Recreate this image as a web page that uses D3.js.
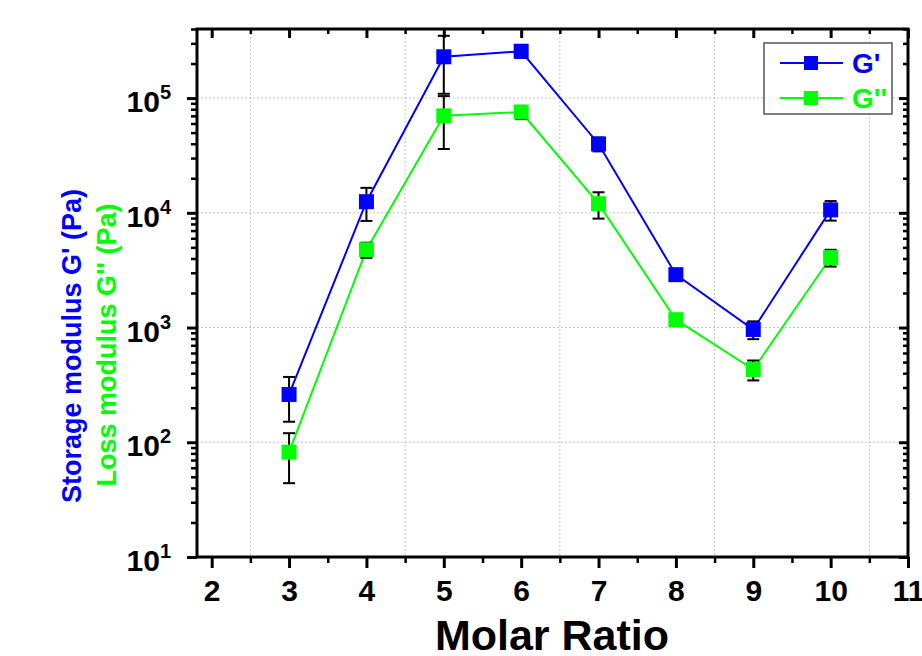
<!DOCTYPE html>
<html lang="en">
<head>
    <meta charset="UTF-8">
    <title>G' and G'' vs Molar Ratio</title>
    <script src="https://d3js.org/d3.v7.min.js"></script>
    <style>
        body {
            margin: 0;
            background-color: #ffffff;
            font-family: 'Liberation Sans', Arial, sans-serif;
        }
        .axis text {
            font-family: 'Liberation Sans', Arial, sans-serif;
            font-weight: bold;
            fill: #000;
        }
        .axis line {
            stroke: #000;
        }
        .grid line {
            stroke: #c4c4c4;
            stroke-width: 1px;
            stroke-dasharray: 2,2;
        }
    </style>
</head>
<body>
    <div id="chart"></div>

    <script>
        // Data
        const ratios = [3, 4, 5, 6, 7, 8, 9, 10];
        const gPrime = [261, 12500, 229000, 256000, 39800, 2890, 962, 10600];
        const gPrimeErr = [110, 4000, 120000, 32000, 5500, 250, 170, 2050];
        const gDouble = [82, 4770, 70000, 75500, 12000, 1170, 431, 4080];
        const gDoubleErr = [38, 720, 34000, 10000, 3100, 100, 85, 680];

        const xTicks = [2, 3, 4, 5, 6, 7, 8, 9, 10, 11];
        const yTicks = [10, 100, 1000, 10000, 100000];
        const xGrid = [2.5, 4.5, 6.5, 8.5, 10.5];

        const series = [
            { name: "G'", color: "#0000ff", values: gPrime, errs: gPrimeErr },
            { name: "G''", color: "#00ff00", values: gDouble, errs: gDoubleErr }
        ];

        const width = 922;
        const height = 656;
        const margin = { top: 29, right: 14, bottom: 99, left: 197 };
        const innerW = width - margin.left - margin.right;
        const innerH = height - margin.top - margin.bottom;

        const svg = d3.select("#chart")
            .append("svg")
            .attr("width", width)
            .attr("height", height);

        const g = svg.append("g")
            .attr("transform", `translate(${margin.left},${margin.top})`);

        const x = d3.scaleLinear().domain([1.81, 11]).range([0, innerW]);
        const y = d3.scaleLog().domain([10, 4e5]).range([innerH, 0]);

        // minor ticks
        const xMinor = d3.range(1.5, 11, 1).filter(v => v >= 1.81);
        const yMinor = [];
        for (let p = 1; p <= 5; p++) {
            for (let m = 2; m <= 9; m++) {
                const v = m * Math.pow(10, p);
                if (v <= 4e5) yMinor.push(v);
            }
        }

        // grid
        g.append("g").attr("class", "grid")
            .selectAll("line.h")
            .data(yTicks.slice(1))
            .enter().append("line")
            .attr("x1", 0).attr("x2", innerW)
            .attr("y1", d => y(d)).attr("y2", d => y(d));

        g.append("g").attr("class", "grid")
            .selectAll("line.v")
            .data(xGrid)
            .enter().append("line")
            .attr("y1", 0).attr("y2", innerH)
            .attr("x1", d => x(d)).attr("x2", d => x(d));

        // bottom axis
        const xAxis = g.append("g").attr("class", "axis")
            .attr("transform", `translate(0,${innerH})`)
            .call(d3.axisBottom(x).tickValues(xTicks).tickSize(11).tickSizeOuter(0).tickPadding(12).tickFormat(d3.format("d")));
        xAxis.selectAll("text").style("font-size", "30px");
        xAxis.selectAll("line").style("stroke-width", "3px");
        xAxis.select(".domain").remove();

        g.append("g").attr("class", "axis")
            .attr("transform", `translate(0,${innerH})`)
            .call(d3.axisBottom(x).tickValues(xMinor).tickSize(6).tickFormat(""))
            .call(a => a.select(".domain").remove())
            .selectAll("line").style("stroke-width", "2.5px");

        // top axis (ticks inward)
        g.append("g").attr("class", "axis")
            .call(d3.axisTop(x).tickValues(xTicks).tickSize(-9).tickFormat(""))
            .call(a => a.select(".domain").remove())
            .selectAll("line").style("stroke-width", "3px");
        g.append("g").attr("class", "axis")
            .call(d3.axisTop(x).tickValues(xMinor).tickSize(-5).tickFormat(""))
            .call(a => a.select(".domain").remove())
            .selectAll("line").style("stroke-width", "2.5px");

        // left axis
        const yAxis = g.append("g").attr("class", "axis")
            .call(d3.axisLeft(y).tickValues(yTicks).tickSize(10).tickPadding(16).tickFormat(""));
        yAxis.select(".domain").remove();
        yAxis.selectAll("line").style("stroke-width", "3px");
        yAxis.selectAll(".tick text")
            .style("font-size", "30px")
            .attr("dy", "0.45em")
            .each(function(d) {
                const t = d3.select(this);
                t.append("tspan").text("10");
                t.append("tspan")
                    .text(Math.round(Math.log10(d)))
                    .style("font-size", "20px")
                    .attr("dy", "-13");
            });

        g.append("g").attr("class", "axis")
            .call(d3.axisLeft(y).tickValues(yMinor).tickSize(6).tickFormat(""))
            .call(a => a.select(".domain").remove())
            .selectAll("line").style("stroke-width", "2.5px");

        // right axis (ticks inward)
        g.append("g").attr("class", "axis")
            .attr("transform", `translate(${innerW},0)`)
            .call(d3.axisRight(y).tickValues(yTicks).tickSize(-9).tickFormat(""))
            .call(a => a.select(".domain").remove())
            .selectAll("line").style("stroke-width", "3px");
        g.append("g").attr("class", "axis")
            .attr("transform", `translate(${innerW},0)`)
            .call(d3.axisRight(y).tickValues(yMinor).tickSize(-5).tickFormat(""))
            .call(a => a.select(".domain").remove())
            .selectAll("line").style("stroke-width", "2.5px");

        // frame
        g.append("rect")
            .attr("width", innerW)
            .attr("height", innerH)
            .attr("fill", "none")
            .attr("stroke", "#000")
            .attr("stroke-width", 3);

        // lines
        const line = d3.line()
            .x((d, i) => x(ratios[i]))
            .y(d => y(d));

        series.forEach(s => {
            g.append("path")
                .datum(s.values)
                .attr("fill", "none")
                .attr("stroke", s.color)
                .attr("stroke-width", 2)
                .attr("d", line);
        });

        // error bars
        series.forEach(s => {
            const eb = g.append("g");
            s.values.forEach((v, i) => {
                const cx = x(ratios[i]);
                const y1 = y(v + s.errs[i]);
                const y0 = y(Math.max(v - s.errs[i], 1));
                eb.append("line")
                    .attr("x1", cx).attr("x2", cx)
                    .attr("y1", y1).attr("y2", y0)
                    .attr("stroke", "#000").attr("stroke-width", 2);
                [y1, y0].forEach(yy => {
                    eb.append("line")
                        .attr("x1", cx - 6).attr("x2", cx + 6)
                        .attr("y1", yy).attr("y2", yy)
                        .attr("stroke", "#000").attr("stroke-width", 2);
                });
            });
        });

        // markers
        series.forEach(s => {
            g.append("g").selectAll("rect")
                .data(s.values)
                .enter().append("rect")
                .attr("x", (d, i) => x(ratios[i]) - 7.5)
                .attr("y", d => y(d) - 7.5)
                .attr("width", 15)
                .attr("height", 15)
                .attr("fill", s.color);
        });

        // axis titles
        svg.append("text")
            .attr("x", 552)
            .attr("y", 650)
            .attr("text-anchor", "middle")
            .style("font-size", "43px")
            .style("font-weight", "bold")
            .text("Molar Ratio");

        svg.append("text")
            .attr("transform", "translate(81,346) rotate(-90)")
            .attr("text-anchor", "middle")
            .style("font-size", "27px")
            .style("font-weight", "bold")
            .attr("fill", "#0000ff")
            .text("Storage modulus G' (Pa)");

        svg.append("text")
            .attr("transform", "translate(116,345) rotate(-90)")
            .attr("text-anchor", "middle")
            .style("font-size", "27px")
            .style("font-weight", "bold")
            .attr("fill", "#00ff00")
            .text("Loss modulus G'' (Pa)");

        // legend
        const legend = svg.append("g").attr("transform", "translate(764,43)");
        legend.append("rect")
            .attr("width", 128)
            .attr("height", 71)
            .attr("fill", "#fff")
            .attr("stroke", "#555")
            .attr("stroke-width", 1.5);

        series.forEach((s, i) => {
            const ly = 20 + i * 35;
            legend.append("line")
                .attr("x1", 16).attr("x2", 79)
                .attr("y1", ly).attr("y2", ly)
                .attr("stroke", s.color).attr("stroke-width", 2);
            legend.append("rect")
                .attr("x", 47 - 7).attr("y", ly - 7)
                .attr("width", 14).attr("height", 14)
                .attr("fill", s.color);
            legend.append("text")
                .attr("x", 88)
                .attr("y", ly + 10)
                .style("font-size", "28px")
                .style("font-weight", "bold")
                .attr("fill", s.color)
                .text(s.name);
        });
    </script>
</body>
</html>
